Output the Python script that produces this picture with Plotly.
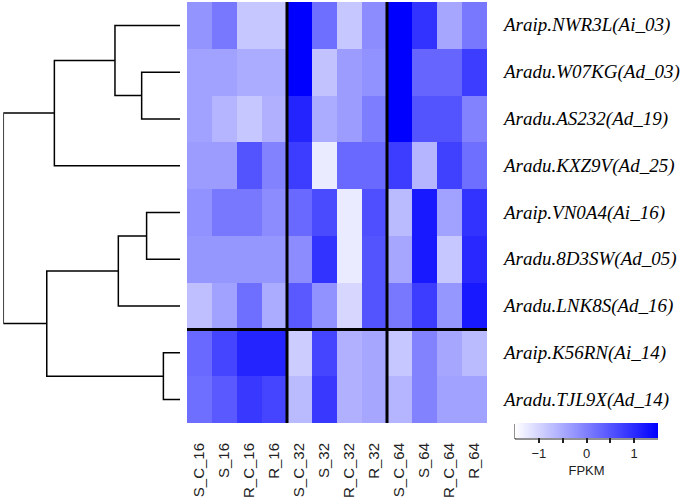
import plotly.graph_objects as go

# ---------------- data ----------------
columns = ["S_C_16", "S_16", "R_C_16", "R_16",
           "S_C_32", "S_32", "R_C_32", "R_32",
           "S_C_64", "S_64", "R_C_64", "R_64"]

genes = ["Araip.NWR3L(Ai_03)", "Aradu.W07KG(Ad_03)", "Aradu.AS232(Ad_19)",
         "Aradu.KXZ9V(Ad_25)", "Araip.VN0A4(Ai_16)", "Aradu.8D3SW(Ad_05)",
         "Aradu.LNK8S(Ad_16)", "Araip.K56RN(Ai_14)", "Aradu.TJL9X(Ad_14)"]

row_NWR3L = [-0.24, 0.09, -0.84, -0.84, 1.50, 0.21, -0.84, -0.15, 1.50, 0.90, -0.45, 0.09]
row_W07KG = [-0.39, -0.39, -0.51, -0.51, 1.50, -0.78, -0.33, -0.21, 1.50, 0.30, 0.30, 0.78]
row_AS232 = [-0.39, -0.63, -0.84, -0.57, 1.08, -0.51, -0.33, 0.03, 1.50, 0.51, 0.51, -0.03]
row_KXZ9V = [-0.33, -0.33, 0.51, -0.03, 0.78, -1.26, 0.27, 0.27, 0.78, -0.63, 0.75, 0.21]
row_VN0A4 = [-0.21, 0.09, 0.09, -0.15, 0.27, 0.63, -1.26, 0.57, -0.69, 1.20, -0.39, 0.90]
row_8D3SW = [-0.27, -0.27, -0.27, -0.27, -0.15, 0.90, -1.26, 0.51, -0.45, 1.20, -0.84, 1.02]
row_LNK8S = [-0.75, -0.39, 0.21, -0.51, 0.45, -0.21, -1.02, 0.51, 0.09, 0.78, -0.27, 1.20]
row_K56RN = [0.27, 0.69, 1.08, 1.08, -0.90, 0.69, -0.57, -0.45, -0.84, -0.03, -0.45, -0.69]
row_TJL9X = [0.21, 0.45, 0.84, 0.69, -0.69, 0.84, -0.57, -0.45, -0.63, -0.03, -0.39, -0.39]

z = [row_NWR3L, row_W07KG, row_AS232, row_KXZ9V, row_VN0A4,
     row_8D3SW, row_LNK8S, row_K56RN, row_TJL9X]

# dendrogram merges: (child_a, child_b, height); ints = leaf index, "mK" = merge K
merges = [
    (1, 2, 2.17),
    (0, "m0", 3.68),
    ("m1", 3, 7.11),
    (4, 5, 1.89),
    ("m3", 6, 3.49),
    (7, 8, 0.94),
    ("m4", "m5", 7.54),
    ("m2", "m6", 10.0),
]

colorbar_ticks = [-1, -0.5, 0, 0.5, 1]
colorbar_ticktext = ["\u22121", "", "0", "", "1"]

# ---------------- dendrogram geometry ----------------
node_pos = {}
dx, dy = [], []
for k, (a, b, h) in enumerate(merges):
    pts = []
    for c in (a, b):
        if isinstance(c, int):
            pts.append((c, 0.0))
        else:
            pts.append(node_pos[c])
    (ya, ha), (yb, hb) = pts
    dx += [ha, h, h, hb, None]
    dy += [ya, ya, yb, yb, None]
    node_pos["m%d" % k] = ((ya + yb) / 2.0, h)

# ---------------- figure ----------------
W, H = 680, 500
hx0, hx1 = 187 / W, 487 / W
hy0, hy1 = 1 - 423 / H, 1 - 2 / H

fig = go.Figure()

fig.add_trace(go.Heatmap(
    z=z,
    x=list(range(len(columns))),
    y=list(range(len(genes))),
    colorscale=[[0, "#ffffff"], [1, "#0000ff"]],
    zmin=-1.5, zmax=1.5,
    xaxis="x", yaxis="y",
    colorbar=dict(
        orientation="h",
        x=586.5 / W, xanchor="center",
        y=1 - 423 / H, yanchor="top",
        len=143 / W, lenmode="fraction",
        thickness=15, thicknessmode="pixels",
        xpad=0, ypad=0,
        outlinewidth=0,
        tickvals=colorbar_ticks, ticktext=colorbar_ticktext,
        ticks="outside", ticklen=5, tickwidth=2, tickcolor="#222",
        tickfont=dict(family="Liberation Sans", size=13, color="#222"),
        title=dict(text="FPKM", side="bottom",
                   font=dict(family="Liberation Sans", size=13, color="#222")),
    ),
))

fig.add_trace(go.Scatter(
    x=dx, y=dy, mode="lines",
    line=dict(color="black", width=1.5),
    xaxis="x2", yaxis="y", hoverinfo="skip", showlegend=False,
))

shapes = []
for xb in (3.5, 7.5):
    shapes.append(dict(type="line", xref="x", yref="y", x0=xb, x1=xb, y0=-0.5, y1=8.5,
                       line=dict(color="black", width=3)))
shapes.append(dict(type="line", xref="x", yref="y", x0=-0.55, x1=11.5, y0=6.5, y1=6.5,
                   line=dict(color="black", width=3)))
# colorbar baseline
shapes.append(dict(type="line", xref="paper", yref="paper",
                   x0=515 / W, x1=658 / W, y0=1 - 439 / H, y1=1 - 439 / H,
                   line=dict(color="#222", width=1)))
shapes.append(dict(type="line", xref="paper", yref="paper",
                   x0=515 / W, x1=515 / W, y0=1 - 424 / H, y1=1 - 439 / H,
                   line=dict(color="#222", width=1)))

annotations = []
for i, g in enumerate(genes):
    annotations.append(dict(
        x=500 / W, xref="paper", y=i, yref="y", text=g, showarrow=False,
        xanchor="left", yanchor="middle",
        font=dict(family="Liberation Serif", size=19, color="black", style="italic"),
    ))

fig.update_layout(
    width=W, height=H,
    margin=dict(l=0, r=0, t=0, b=0, autoexpand=False),
    paper_bgcolor="white", plot_bgcolor="white",
    showlegend=False,
    xaxis=dict(domain=[hx0, hx1], range=[-0.5, 11.5],
               tickvals=list(range(len(columns))), ticktext=columns,
               tickangle=-90, ticks="", showgrid=False, zeroline=False,
               showline=False, ticklabelstandoff=16, automargin=False,
               tickfont=dict(family="Liberation Sans", size=15, color="#222"),
               anchor="y"),
    yaxis=dict(domain=[hy0, hy1], range=[8.5, -0.5], automargin=False,
               showticklabels=False, ticks="", showgrid=False, zeroline=False,
               showline=False, anchor="x"),
    xaxis2=dict(domain=[3.3 / W, 180 / W], range=[10, 0], automargin=False,
                showticklabels=False, ticks="", showgrid=False, zeroline=False,
                showline=False, anchor="y"),
    shapes=shapes,
    annotations=annotations,
)

fig.write_html("out.html",
               config={"displayModeBar": False},
               post_script="document.body.style.margin='0';document.body.style.overflow='hidden';")
